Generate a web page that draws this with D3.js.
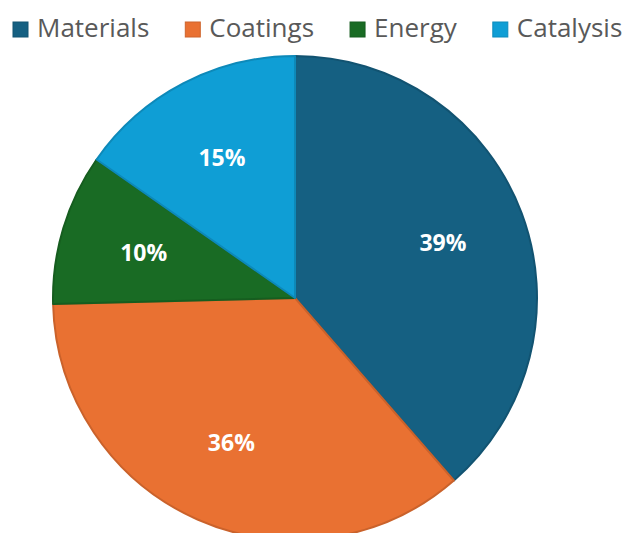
<!DOCTYPE html>
<html>
<head>
<meta charset="utf-8">
<script src="https://cdn.jsdelivr.net/npm/d3@7/dist/d3.min.js"></script>
<style>
  html, body { margin: 0; padding: 0; background: #fff; overflow: hidden; }
</style>
</head>
<body>
<script>
const categories = ['Materials', 'Coatings', 'Energy', 'Catalysis'];
const values = [38.6, 36.0, 10.1, 15.3];
const colors = ['#156082', '#E97132', '#196B24', '#0F9ED5'];

const width = 622, height = 533;
const cx = 295, cy = 298, radius = 242;

let svg = d3.select('body').append('svg')
    .attr('width', width)
    .attr('height', height);

let data = categories.map((c, i) => ({name: c, value: values[i], color: colors[i]}));
let total = d3.sum(values);

let pie = d3.pie()
    .sort(null)
    .value(d => d.value);

let arc = d3.arc()
    .innerRadius(0)
    .outerRadius(radius);

let labelArc = d3.arc()
    .innerRadius(158)
    .outerRadius(158);

let g = svg.append('g')
    .attr('transform', `translate(${cx},${cy})`);

let slices = g.selectAll('g.slice')
    .data(pie(data))
    .enter()
    .append('g')
    .attr('class', 'slice');

slices.append('path')
    .attr('d', arc)
    .attr('fill', d => d.data.color)
    .attr('stroke', d => d3.color(d.data.color).darker(0.4))
    .attr('stroke-width', 2)
    .attr('stroke-linejoin', 'round');

slices.append('text')
    .attr('transform', d => `translate(${labelArc.centroid(d)})`)
    .attr('text-anchor', 'middle')
    .attr('dy', '0.36em')
    .attr('fill', '#fff')
    .attr('font-family', '"Open Sans", sans-serif')
    .attr('font-weight', 'bold')
    .attr('font-size', 23)
    .text(d => Math.round(d.data.value / total * 100) + '%');

// legend across the top
let legend = svg.append('g');
let x = 13;
data.forEach(d => {
    legend.append('rect')
        .attr('x', x)
        .attr('y', 22)
        .attr('width', 15)
        .attr('height', 15)
        .attr('fill', d.color)
        .attr('stroke', d3.color(d.color).darker(0.35))
        .attr('stroke-width', 1);
    let t = legend.append('text')
        .attr('x', x + 24)
        .attr('y', 37)
        .attr('fill', '#595959')
        .attr('font-family', '"Open Sans", sans-serif')
        .attr('font-size', 26)
        .text(d.name);
    x += 24 + t.node().getComputedTextLength() + 36;
});
</script>
</body>
</html>
